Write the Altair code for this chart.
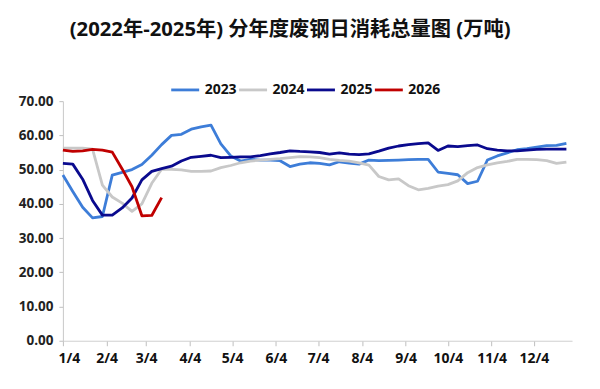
import altair as alt
import pandas as pd

# Weekly observation dates (common calendar, one point per week)
week_dates = pd.date_range("2025-01-04", periods=52, freq="7D")

years = ["2023", "2024", "2025", "2026"]
colors = ["#3D7DD8", "#C8C8C8", "#0A0A8E", "#C00000"]
widths = [2.8, 2.8, 3.8, 3.8]

v2023 = [48.4, 43.6, 39.0, 35.9, 36.3, 48.4, 49.2, 50.0, 51.5, 54.2,
         57.3, 60.0, 60.3, 61.8, 62.5, 63.0, 57.5, 54.0, 52.5, 53.0,
         52.8, 52.8, 52.6, 50.9, 51.6, 52.0, 51.8, 51.4, 52.3, 51.9,
         51.6, 52.8, 52.6, 52.7, 52.8, 52.9, 53.0, 53.0, 49.3, 48.9,
         48.5, 45.9, 46.6, 52.8, 54.0, 54.9, 55.8, 56.1, 56.6, 57.0,
         57.1, 57.7]
v2024 = [56.3, 56.3, 56.3, 56.0, 45.5, 42.0, 40.2, 37.8, 40.0, 46.0,
         50.1, 50.1, 49.9, 49.5, 49.5, 49.6, 50.6, 51.2, 52.0, 52.5,
         52.8, 53.0, 53.2, 53.5, 53.8, 53.7, 53.5, 53.0, 52.7, 52.5,
         52.0, 51.3, 48.0, 47.0, 47.3, 45.3, 44.1, 44.5, 45.2, 45.6,
         46.7, 49.1, 50.6, 51.4, 52.0, 52.4, 53.0, 53.0, 52.9, 52.6,
         51.8, 52.2]
v2025 = [51.8, 51.6, 47.2, 41.0, 36.7, 36.7, 38.8, 41.7, 47.0, 49.5,
         50.3, 51.0, 52.5, 53.6, 53.9, 54.2, 53.5, 53.6, 53.7, 53.7,
         54.1, 54.6, 55.0, 55.5, 55.3, 55.2, 55.0, 54.5, 54.9, 54.5,
         54.4, 54.6, 55.4, 56.3, 56.9, 57.3, 57.6, 57.8, 55.6, 56.9,
         56.7, 57.0, 57.2, 56.1, 55.7, 55.5, 55.5, 55.7, 55.9, 56.0,
         56.0, 56.0]
v2026 = [55.7, 55.3, 55.5, 55.9, 55.7, 55.1, 50.2, 45.0, 36.5, 36.6, 41.8]

series = {"2023": v2023, "2024": v2024, "2025": v2025, "2026": v2026}
rows = []
for yr, vals in series.items():
    for d, v in zip(week_dates, vals):
        rows.append({"date": d, "value": v, "year": yr})
df = pd.DataFrame(rows)

tick_dates = [alt.DateTime(year=2025, month=m, date=4) for m in range(1, 13)]
y_ticks = [0, 10, 20, 30, 40, 50, 60, 70]

LATIN = "'Open Sans', 'Noto Sans CJK SC', sans-serif"

chart = (
    alt.Chart(df)
    .mark_line(strokeCap="butt", strokeJoin="round")
    .encode(
        x=alt.X(
            "date:T",
            scale=alt.Scale(domain=[alt.DateTime(year=2025, month=1, date=4),
                                    alt.DateTime(year=2025, month=12, date=31)]),
            axis=alt.Axis(values=tick_dates, format="%-m/%-d", title=None, grid=False,
                          domainColor="#D0D0D0", tickColor="#BFBFBF", tickSize=5,
                          labelPadding=6, labelFont=LATIN, labelFontSize=14,
                          labelFontWeight="bold", labelColor="#111111",
                          labelFlush=True, labelFlushOffset=5),
        ),
        y=alt.Y(
            "value:Q",
            scale=alt.Scale(domain=[0, 70], nice=False),
            axis=alt.Axis(values=y_ticks, format=".2f", title=None, grid=False,
                          domainColor="#C8C8C8", tickColor="#BFBFBF", tickSize=4,
                          labelPadding=6, labelFont=LATIN, labelFontSize=13.5,
                          labelFontWeight="bold", labelColor="#222222"),
        ),
        color=alt.Color(
            "year:N",
            scale=alt.Scale(domain=years, range=colors),
            legend=alt.Legend(title=None, orient="none", direction="horizontal",
                              legendX=107, legendY=-27, symbolType="stroke",
                              symbolSize=784, symbolStrokeWidth=4,
                              labelFont=LATIN, labelFontSize=14, labelFontWeight="bold",
                              labelColor="#111111", labelOffset=4, columnPadding=-6,
                              padding=0),
        ),
        strokeWidth=alt.StrokeWidth("year:N", scale=alt.Scale(domain=years, range=widths),
                                    legend=None),
    )
    .properties(
        width=510,
        height=240,
        padding={"left": 55, "top": 93, "right": 20, "bottom": 40},
        autosize=alt.AutoSizeParams(type="none"),
        title=alt.TitleParams(
            text="(2022年-2025年) 分年度废钢日消耗总量图 (万吨)",
            font=LATIN, fontSize=20.3, fontWeight="bold", color="#111111",
            anchor="middle", frame="bounds", offset=34, dx=-5,
        ),
    )
    .configure_view(stroke=None)
)

chart.save("out.html", embed_options={"renderer": "svg", "actions": False})
